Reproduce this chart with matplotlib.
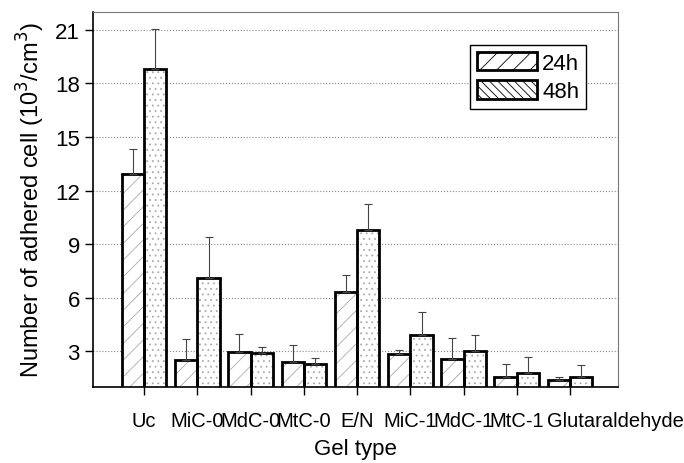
import numpy as np
import matplotlib.pyplot as plt
from matplotlib.patches import Patch
from matplotlib.transforms import ScaledTranslation

plt.rcParams['font.family'] = ['Liberation Sans', 'DejaVu Sans']
plt.rcParams['hatch.linewidth'] = 0.6

### Data
gels = ['Uc', 'MiC-0', 'MdC-0', 'MtC-0', 'E/N', 'MiC-1', 'MdC-1', 'MtC-1', 'Glutaraldehyde']
h24 = [12.93, 2.53, 2.93, 2.40, 6.30, 2.84, 2.55, 1.53, 1.37]
h24_err = [1.39, 1.18, 1.01, 0.94, 0.95, 0.20, 1.18, 0.78, 0.18]
h48 = [18.79, 7.12, 2.89, 2.27, 9.80, 3.91, 3.00, 1.77, 1.55]
h48_err = [2.26, 2.27, 0.33, 0.33, 1.44, 1.27, 0.89, 0.90, 0.67]
yticks = [3, 6, 9, 12, 15, 18, 21]

### Charting
fig = plt.figure(figsize=(6.84, 4.64), dpi=100)
ax = fig.add_subplot(111)
fig.subplots_adjust(left=0.136, right=0.9035, top=0.972, bottom=0.164)

x = np.arange(1, len(gels) + 1)
w = 0.42
zeros = np.zeros(len(gels))

# hatch layer (gray), then thick black outline on top
ax.bar(x - w / 2, h24, w, color='white', edgecolor='#aaaaaa', hatch='//', lw=0, zorder=2)
ax.bar(x + w / 2, h48, w, color='white', edgecolor='#aaaaaa', hatch='...', lw=0, zorder=2)
ax.bar(x - w / 2, h24, w, fill=False, edgecolor='k', lw=2, zorder=3)
ax.bar(x + w / 2, h48, w, fill=False, edgecolor='k', lw=2, zorder=3)
ax.errorbar(x - w / 2, h24, yerr=[zeros, h24_err], fmt='none', ecolor='#444444',
            elinewidth=0.8, capsize=3, capthick=0.8, zorder=4)
ax.errorbar(x + w / 2, h48, yerr=[zeros, h48_err], fmt='none', ecolor='#444444',
            elinewidth=0.8, capsize=3, capthick=0.8, zorder=4)

ax.set_xlim(0.04, 9.9)
ax.set_ylim(1, 22)
ax.set_yticks(yticks)
ax.set_xticks(x)
ax.tick_params(axis='x', direction='out', length=6, width=1, pad=11)
ax.tick_params(axis='y', direction='out', length=6, width=1, labelsize=16)
ax.set_xticklabels(gels, fontsize=14.5)
ax.yaxis.grid(True, linestyle=':', color='#888888', lw=0.8, zorder=0)
ax.set_axisbelow(True)

# long last label sits right of its tick in the original
lbl = ax.get_xticklabels()[-1]
lbl.set_transform(lbl.get_transform() + ScaledTranslation(0.45, 0, fig.dpi_scale_trans))

for s in ['top', 'right']:
    ax.spines[s].set_color('#777777')
    ax.spines[s].set_linewidth(0.8)
for s in ['left', 'bottom']:
    ax.spines[s].set_linewidth(1.2)

ax.set_xlabel('Gel type', fontsize=16, labelpad=6)
ax.set_ylabel('Number of adhered cell (10$^3$/cm$^3$)', fontsize=17, labelpad=6)

handles = [Patch(facecolor='white', edgecolor='k', hatch='//', lw=2, label='24h'),
           Patch(facecolor='white', edgecolor='k', hatch='\\\\\\\\', lw=2, label='48h')]
leg = ax.legend(handles=handles, loc='upper right', bbox_to_anchor=(0.939, 0.912),
                borderaxespad=0, fontsize=16, fancybox=False, edgecolor='k', framealpha=1,
                handlelength=2.7, handleheight=0.9, handletextpad=0.25,
                labelspacing=0.3, borderpad=0.3)
leg.get_frame().set_linewidth(1.0)

plt.savefig('out.png', dpi=100)
